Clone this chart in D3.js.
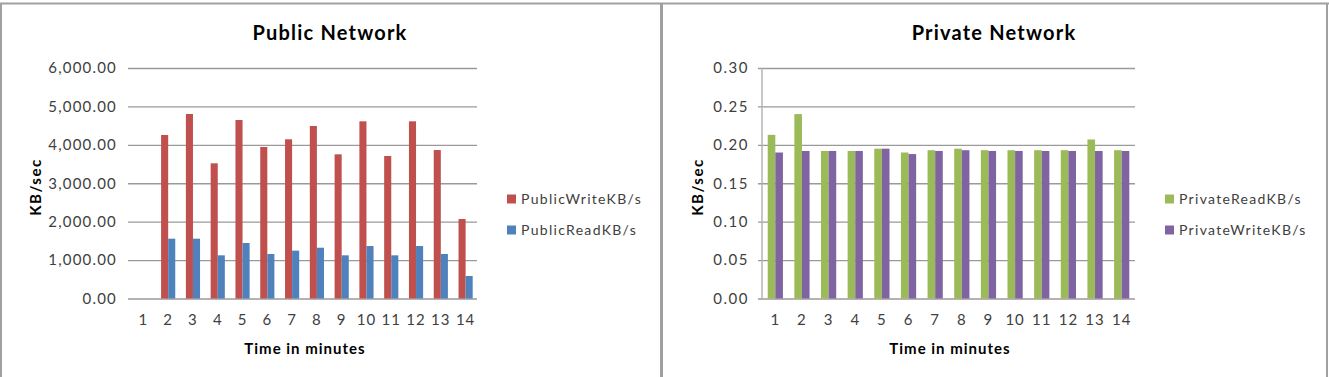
<!DOCTYPE html>
<html>
<head>
<meta charset="utf-8">
<script src="https://cdnjs.cloudflare.com/ajax/libs/d3/7.8.5/d3.min.js"></script>
<style>
  body { margin: 0; background: #fff; }
  svg text { font-family: Lato, "Open Sans", sans-serif; }
  .axis .domain { display: none; }
</style>
</head>
<body>
<svg id="chart" width="1329" height="377"></svg>
<script>
//*************** data ******************//

var minutes = ["1", "2", "3", "4", "5", "6", "7", "8", "9", "10", "11", "12", "13", "14"];

var publicWrite = [0, 4256, 4803, 3519, 4646, 3944, 4144, 4490, 3753, 4612, 3709, 4612, 3865, 2069];
var publicRead  = [0, 1557, 1557, 1124, 1445, 1158, 1245, 1322, 1124, 1366, 1124, 1366, 1158, 585];

var privateRead  = [0.213, 0.240, 0.192, 0.192, 0.195, 0.190, 0.193, 0.195, 0.193, 0.193, 0.193, 0.193, 0.207, 0.193];
var privateWrite = [0.190, 0.192, 0.192, 0.192, 0.195, 0.188, 0.192, 0.193, 0.192, 0.192, 0.192, 0.192, 0.192, 0.192];

var publicTicks  = [0, 1000, 2000, 3000, 4000, 5000, 6000];
var privateTicks = [0, 0.05, 0.10, 0.15, 0.20, 0.25, 0.30];

//*************** canvas ******************//

var svg = d3.select("svg#chart");

// panel frames (grey borders like the pasted Excel charts)
svg.append("line").attr("x1", 0).attr("x2", 1329).attr("y1", 3.5).attr("y2", 3.5)
  .attr("stroke", "#a0a0a0").attr("stroke-width", 2);
[1, 661.5, 1327].forEach(function(x) {
  svg.append("line").attr("x1", x).attr("x2", x).attr("y1", 3).attr("y2", 377)
    .attr("stroke", "#a0a0a0").attr("stroke-width", x == 661.5 ? 3 : 2);
});

//--------------- one grouped bar chart
function drawChart(opt) {

  var g = svg.append("g").attr("class", "panel");

  var xScale = d3.scaleBand().domain(minutes).range([opt.x0, opt.x1]).paddingInner(0).paddingOuter(0);
  var yScale = d3.scaleLinear().domain([opt.ticks[0], opt.ticks[opt.ticks.length - 1]]).range([298.5, 68]);

  // gridlines + y labels
  var yAxis = d3.axisLeft(yScale)
    .tickValues(opt.ticks)
    .tickFormat(opt.fmt)
    .tickSize(-(opt.gridEnd - opt.gridStart))
    .tickPadding(opt.tickPad);

  var y_axis = g.append("g")
    .attr("class", "axis")
    .attr("transform", "translate(" + opt.gridStart + ",0)")
    .call(yAxis);
  y_axis.selectAll(".tick line").attr("stroke", "#9a9a9a").attr("stroke-width", 1.4);
  y_axis.selectAll(".tick text")
    .attr("fill", "#404040")
    .style("font-size", opt.tickSize)
    .style("letter-spacing", opt.tickSpacing);

  // vertical axis line (private chart only)
  if (opt.axisLine) {
    g.append("line")
      .attr("x1", opt.x0).attr("x2", opt.x0)
      .attr("y1", yScale.range()[1]).attr("y2", yScale.range()[0])
      .attr("stroke", "#b0b0b0").attr("stroke-width", 1.4);
  }

  // x labels
  var xAxis = d3.axisBottom(xScale).tickSize(0).tickPadding(16);
  var x_axis = g.append("g")
    .attr("class", "axis")
    .attr("transform", "translate(0,298.5)")
    .call(xAxis);
  x_axis.selectAll(".tick text")
    .attr("fill", "#404040")
    .style("font-size", "15px")
    .style("letter-spacing", "1px");

  // bars
  var barW = xScale.bandwidth() / 3.5;
  opt.series.forEach(function(s, k) {
    g.append("g").selectAll("rect")
      .data(s.values)
      .enter().append("rect")
      .attr("x", function(d, i) { return xScale(minutes[i]) + xScale.bandwidth() / 2 - barW + k * barW; })
      .attr("y", function(d) { return yScale(d); })
      .attr("width", barW)
      .attr("height", function(d) { return yScale(0) - yScale(d); })
      .attr("fill", s.color);
  });

  // titles
  g.append("text")
    .attr("x", opt.titleX).attr("y", 40)
    .attr("text-anchor", "middle")
    .style("font-size", "20px").style("font-weight", "bold").style("letter-spacing", "1.2px")
    .text(opt.title);

  g.append("text")
    .attr("x", opt.xTitleX).attr("y", 354)
    .attr("text-anchor", "middle")
    .style("font-size", "15px").style("font-weight", "bold").style("letter-spacing", "1px")
    .text("Time in minutes");

  g.append("text")
    .attr("transform", "translate(" + opt.yTitleX + ",187) rotate(-90)")
    .attr("text-anchor", "middle")
    .style("font-size", "15px").style("font-weight", "bold").style("letter-spacing", "1.5px")
    .text("KB/sec");

  // legend
  var legend = g.append("g").attr("transform", "translate(" + opt.legendX + ",0)");
  opt.legend.forEach(function(s, k) {
    var cy = 199 + k * 31;
    legend.append("rect")
      .attr("x", 0).attr("y", cy - 4.5)
      .attr("width", 9).attr("height", 9)
      .attr("fill", s.color);
    legend.append("text")
      .attr("x", 14).attr("y", cy)
      .attr("dy", "0.35em")
      .attr("fill", "#404040")
      .style("font-size", "14px").style("letter-spacing", "1.3px")
      .text(s.name);
  });
}

//--------------- Public Network
drawChart({
  title: "Public Network",
  titleX: 330,
  xTitleX: 305,
  yTitleX: 41,
  x0: 131, x1: 478,
  gridStart: 128, gridEnd: 477,
  ticks: publicTicks,
  fmt: d3.format(",.2f"),
  tickPad: 11,
  tickSize: "15px",
  tickSpacing: "1.2px",
  axisLine: false,
  series: [
    {name: "PublicWriteKB/s", values: publicWrite, color: "#C0504D"},
    {name: "PublicReadKB/s", values: publicRead, color: "#4F81BD"}
  ],
  legend: [
    {name: "PublicWriteKB/s", color: "#C0504D"},
    {name: "PublicReadKB/s", color: "#4F81BD"}
  ],
  legendX: 507
});

//--------------- Private Network
drawChart({
  title: "Private Network",
  titleX: 994,
  xTitleX: 950,
  yTitleX: 703,
  x0: 762, x1: 1135,
  gridStart: 758, gridEnd: 1135,
  ticks: privateTicks,
  fmt: d3.format(".2f"),
  tickPad: 9,
  tickSize: "15px",
  tickSpacing: "1.5px",
  axisLine: true,
  series: [
    {name: "PrivateReadKB/s", values: privateRead, color: "#9BBB59"},
    {name: "PrivateWriteKB/s", values: privateWrite, color: "#8064A2"}
  ],
  legend: [
    {name: "PrivateReadKB/s", color: "#9BBB59"},
    {name: "PrivateWriteKB/s", color: "#8064A2"}
  ],
  legendX: 1165
});
</script>
</body>
</html>
